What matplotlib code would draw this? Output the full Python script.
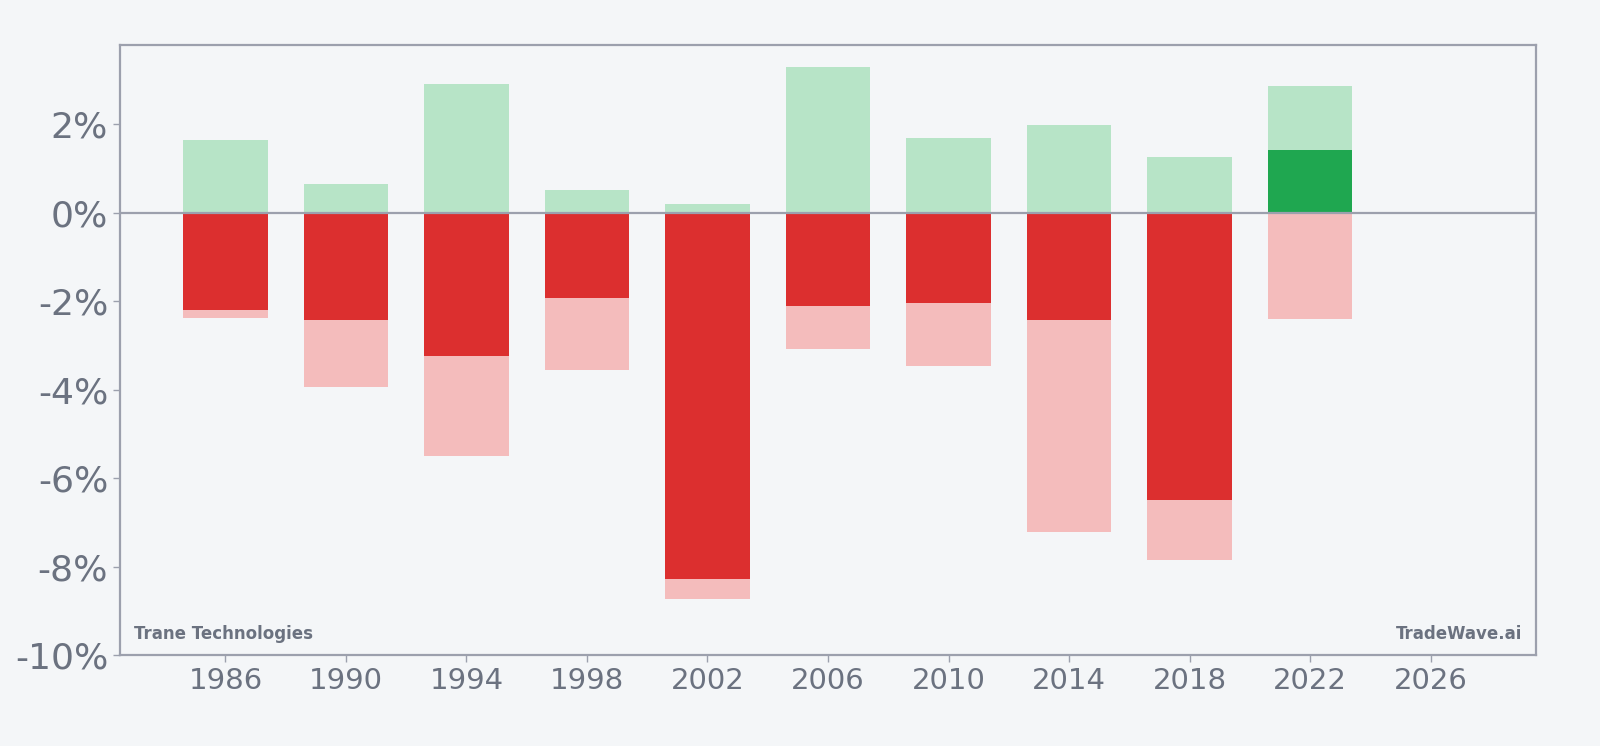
import numpy as np
import matplotlib
matplotlib.use('Agg')
import matplotlib.pyplot as plt
from matplotlib.ticker import FuncFormatter

# Data (percent)
years = [1986, 1990, 1994, 1998, 2002, 2006, 2010, 2014, 2018, 2022]
max_gain = [1.64, 0.65, 2.91, 0.51, 0.21, 3.30, 1.69, 1.99, 1.27, 2.86]
max_drawdown = [-2.38, -3.95, -5.50, -3.56, -8.73, -3.09, -3.46, -7.21, -7.85, -2.40]
final_return = [-2.19, -2.42, -3.23, -1.92, -8.29, -2.10, -2.03, -2.42, -6.49, 1.43]

bg = '#f4f6f8'
grey = '#6b7280'
spine_col = '#9ca0ad'

fig = plt.figure(figsize=(16, 7.46), dpi=100, facecolor=bg)
ax = fig.add_axes([0.075, 0.122, 0.885, 0.818])
ax.set_facecolor(bg)

w = 2.8
ax.bar(years, max_gain, width=w, color='#b7e4c7', zorder=2)
ax.bar(years, max_drawdown, width=w, color='#f4bcbc', zorder=2)
ret_colors = ['#1fa750' if r >= 0 else '#dc2f2f' for r in final_return]
ax.bar(years, final_return, width=w, color=ret_colors, zorder=3)

ax.axhline(0, color=spine_col, lw=1.6, zorder=4)

ax.set_xlim(1982.5, 2029.5)
ax.set_ylim(-10, 3.8)
ax.set_xticks(range(1986, 2027, 4))
ax.set_yticks(range(-10, 3, 2))
ax.yaxis.set_major_formatter(FuncFormatter(lambda v, p: f'{v:.0f}%'))

ax.tick_params(axis='y', labelsize=26, colors=spine_col, labelcolor=grey, length=5, width=1)
ax.tick_params(axis='x', labelsize=21, colors=spine_col, labelcolor=grey, length=5, width=1)
for s in ax.spines.values():
    s.set_color(spine_col)
    s.set_linewidth(1.6)

ax.text(0.01, 0.02, 'Trane Technologies', transform=ax.transAxes, fontsize=12,
        fontweight='bold', color=grey, ha='left', va='bottom')
ax.text(0.99, 0.02, 'TradeWave.ai', transform=ax.transAxes, fontsize=12,
        fontweight='bold', color=grey, ha='right', va='bottom')

plt.savefig('out.png', facecolor=bg)
